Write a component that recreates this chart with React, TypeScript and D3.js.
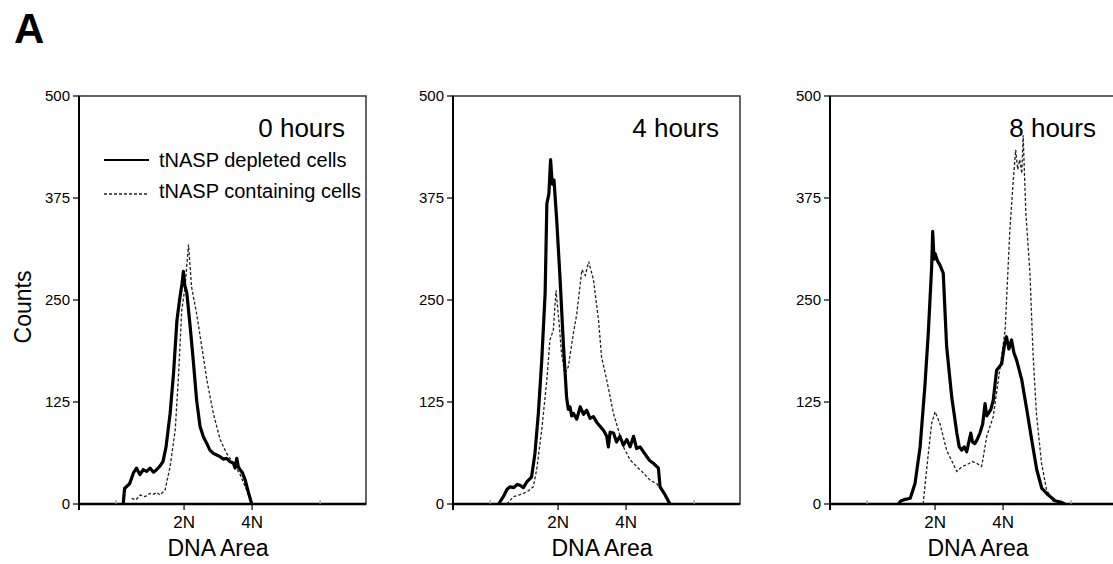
import React from 'react';
import * as d3 from 'd3';

// DNA content (in N units) vs counts
const panelTitles = ['0 hours', '4 hours', '8 hours'];
const yTicks = [0, 125, 250, 375, 500];
const xTicks = [0, 2, 4, 6];
const xTickLabels = ['', '2N', '4N', ''];
const legendLabels = ['tNASP depleted cells', 'tNASP containing cells'];

const depleted0: [number, number][] = [
  [0.21, 0], [0.25, 19], [0.4, 25], [0.51, 38], [0.6, 44], [0.7, 36], [0.8, 42], [0.9, 40],
  [1.0, 44], [1.1, 39], [1.19, 42], [1.3, 47], [1.38, 52], [1.47, 70], [1.59, 111], [1.69, 160],
  [1.79, 225], [1.88, 254], [1.94, 270], [1.98, 285], [2.02, 268], [2.08, 259], [2.18, 217],
  [2.27, 176], [2.37, 127], [2.47, 95], [2.57, 82], [2.67, 74], [2.76, 66], [2.86, 62],
  [2.96, 60], [3.06, 58], [3.15, 55], [3.25, 56], [3.35, 52], [3.45, 50], [3.5, 44], [3.55, 56],
  [3.6, 45], [3.65, 42], [3.72, 38], [3.8, 29], [3.9, 13], [3.99, 0]
];
const containing0: [number, number][] = [
  [0.46, 7], [0.58, 5], [0.71, 11], [0.85, 9], [1.0, 13], [1.1, 12], [1.2, 14], [1.29, 11],
  [1.44, 17], [1.59, 46], [1.74, 91], [1.84, 160], [1.93, 237], [2.03, 266], [2.13, 318],
  [2.22, 266], [2.37, 233], [2.52, 193], [2.67, 152], [2.86, 111], [3.06, 79], [3.25, 62],
  [3.45, 50], [3.65, 36], [3.84, 17], [3.99, 1]
];
const depleted4: [number, number][] = [
  [0.25, 0], [0.39, 9], [0.5, 18], [0.59, 21], [0.7, 20], [0.8, 24], [0.88, 23], [0.98, 20],
  [1.08, 27], [1.22, 33], [1.32, 62], [1.42, 111], [1.52, 176], [1.62, 259], [1.67, 368],
  [1.73, 380], [1.78, 422], [1.83, 392], [1.88, 397], [1.96, 348], [2.06, 275], [2.16, 193],
  [2.25, 131], [2.3, 116], [2.35, 119], [2.4, 108], [2.45, 111], [2.55, 104], [2.65, 119],
  [2.75, 110], [2.84, 115], [2.94, 105], [3.04, 107], [3.14, 100], [3.24, 95], [3.34, 90],
  [3.43, 83], [3.48, 70], [3.53, 88], [3.63, 87], [3.72, 76], [3.82, 83], [3.92, 72],
  [4.02, 79], [4.12, 70], [4.22, 83], [4.31, 68], [4.41, 70], [4.51, 64], [4.61, 58],
  [4.7, 53], [4.8, 50], [4.95, 44], [5.0, 21], [5.15, 11], [5.29, 0]
];
const containing4: [number, number][] = [
  [0.49, 0], [0.69, 9], [0.85, 11], [0.98, 13], [1.12, 16], [1.27, 21], [1.37, 42],
  [1.52, 91], [1.67, 152], [1.76, 201], [1.86, 213], [1.94, 262], [2.04, 217], [2.1, 185],
  [2.2, 160], [2.3, 168], [2.45, 209], [2.55, 233], [2.7, 287], [2.8, 280], [2.9, 297],
  [3.04, 275], [3.19, 225], [3.28, 180], [3.43, 152], [3.63, 111], [3.77, 91], [3.92, 70],
  [4.12, 54], [4.31, 46], [4.51, 38], [4.71, 29], [4.9, 25], [5.1, 13], [5.25, 1]
];
const depleted8: [number, number][] = [
  [0.92, 0], [1.0, 4], [1.07, 5], [1.27, 7], [1.41, 25], [1.56, 70], [1.7, 144], [1.8, 209],
  [1.9, 291], [1.93, 334], [1.97, 300], [2.0, 307], [2.07, 298], [2.14, 293], [2.24, 283],
  [2.34, 193], [2.49, 131], [2.64, 87], [2.71, 70], [2.78, 66], [2.86, 70], [2.93, 64],
  [3.05, 87], [3.1, 76], [3.17, 74], [3.25, 80], [3.32, 87], [3.4, 98], [3.47, 123],
  [3.52, 108], [3.57, 111], [3.64, 116], [3.71, 127], [3.81, 164], [3.96, 172], [4.04, 195],
  [4.1, 205], [4.17, 190], [4.25, 201], [4.32, 185], [4.4, 176], [4.55, 152], [4.7, 115],
  [4.84, 79], [4.99, 42], [5.14, 19], [5.33, 11], [5.53, 4], [5.72, 2], [5.82, 0]
];
const containing8: [number, number][] = [
  [1.65, 0], [1.75, 42], [1.9, 99], [2.0, 113], [2.14, 99], [2.34, 66], [2.5, 52], [2.64, 40],
  [2.8, 46], [2.93, 48], [3.1, 52], [3.22, 50], [3.37, 46], [3.52, 83], [3.71, 107],
  [3.86, 152], [4.06, 213], [4.2, 336], [4.3, 397], [4.37, 434], [4.43, 410], [4.49, 422],
  [4.55, 405], [4.59, 452], [4.67, 356], [4.79, 283], [4.88, 185], [4.98, 111], [5.13, 50],
  [5.28, 17], [5.48, 3]
];

const depletedSeries = [depleted0, depleted4, depleted8];
const containingSeries = [containing0, containing4, containing8];

// layout
const W = 1113;
const H = 564;
const panelLefts = [79, 453, 830];
const panelW = 287;
const top = 96;
const bottom = 504;
const xLabelOffsets = [139, 149, 148];
const font = 'Liberation Sans, Arial, sans-serif';

const Panel = ({ i }: { i: number }) => {
  const x0 = panelLefts[i];
  const x = d3.scaleLinear().domain([-1.09, 7.35]).range([x0, x0 + panelW]);
  const y = d3.scaleLinear().domain([0, 500]).range([bottom, top]);
  const ln = d3.line<[number, number]>().x(d => x(d[0])).y(d => y(d[1]));

  return (
    <g>
      {/* frame */}
      <rect x={x0} y={top} width={panelW} height={bottom - top} fill="none" stroke="#333" strokeWidth={1.5} />
      <line x1={x0} x2={x0} y1={top} y2={bottom + 6} stroke="#000" strokeWidth={2} />
      <line x1={x0} x2={x0 + panelW} y1={bottom} y2={bottom} stroke="#000" strokeWidth={2.5} />
      {yTicks.map(t => (
        <g key={t}>
          <line x1={x0 - 6} x2={x0} y1={y(t)} y2={y(t)} stroke="#000" strokeWidth={1.2} />
          <text x={x0 - 9} y={y(t) + 5} textAnchor="end" fontSize={15} fontFamily={font}>{t}</text>
        </g>
      ))}
      {xTicks.map((t, k) => (
        <g key={t}>
          <line x1={x(t)} x2={x(t)} y1={bottom} y2={bottom + (xTickLabels[k] ? 6 : -4)}
            stroke={xTickLabels[k] ? '#000' : '#999'} strokeWidth={1.2} />
          <text x={x(t)} y={528} textAnchor="middle" fontSize={17} fontFamily={font}>{xTickLabels[k]}</text>
        </g>
      ))}
      <text x={x0 + xLabelOffsets[i]} y={556} textAnchor="middle" fontSize={23} fontFamily={font}>DNA Area</text>
      <path d={ln(containingSeries[i]) || ''} fill="none" stroke="#222" strokeWidth={1.3} strokeDasharray="3,2" />
      <path d={ln(depletedSeries[i]) || ''} fill="none" stroke="#000" strokeWidth={3.2} strokeLinejoin="round" />
      <text x={x0 + 266} y={137} textAnchor="end" fontSize={26} fontFamily={font}>{panelTitles[i]}</text>
    </g>
  );
};

export default function App() {
  return (
    <div style={{ position: 'absolute', left: 0, top: 0 }}>
      <svg width={W} height={H} style={{ display: 'block', background: '#fff' }}>
        <text x={14} y={43} fontSize={42} fontWeight="bold" fontFamily={font}>A</text>
        <text transform="translate(31,307) rotate(-90)" textAnchor="middle" fontSize={23} fontFamily={font}>Counts</text>
        {panelTitles.map((_, i) => <Panel key={i} i={i} />)}
        {/* legend in first panel */}
        <line x1={104} x2={149} y1={160} y2={160} stroke="#000" strokeWidth={2} />
        <text x={159} y={167} fontSize={20} fontFamily={font}>{legendLabels[0]}</text>
        <line x1={104} x2={149} y1={194} y2={194} stroke="#222" strokeWidth={1.3} strokeDasharray="3,2" />
        <text x={159} y={198} fontSize={20} fontFamily={font}>{legendLabels[1]}</text>
      </svg>
    </div>
  );
}
